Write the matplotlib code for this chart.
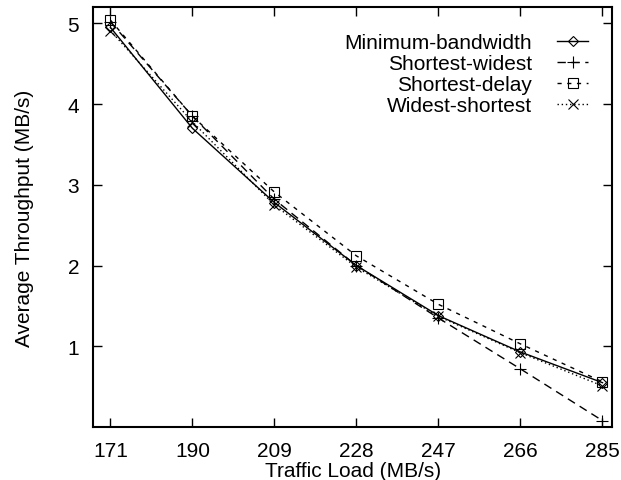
import matplotlib
matplotlib.use("Agg")
import matplotlib.pyplot as plt

plt.rcParams['font.family'] = ['Liberation Sans', 'DejaVu Sans']

loads = [171, 190, 209, 228, 247, 266, 285]
min_bw = [4.95, 3.70, 2.78, 2.00, 1.38, 0.93, 0.55]
sw = [5.02, 3.85, 2.82, 2.00, 1.35, 0.72, 0.08]
sd = [5.04, 3.85, 2.91, 2.12, 1.52, 1.03, 0.56]
ws = [4.91, 3.78, 2.75, 1.98, 1.37, 0.92, 0.51]
ytick_vals = [1, 2, 3, 4, 5]

fig = plt.figure(figsize=(6.21, 4.81), dpi=100)
ax = fig.add_axes([0.150, 0.110, 0.8355, 0.873])

ax.plot(loads, min_bw, color='black', lw=1, ls='-', marker='D', ms=5.5, mfc='none', mew=0.8, label='Minimum-bandwidth')
ax.plot(loads, sw, color='black', lw=1, ls=(0, (6, 4)), marker='+', ms=8, mew=0.8, label='Shortest-widest')
ax.plot(loads, sd, color='black', lw=1, ls=(0, (3, 4)), marker='s', ms=7.5, mfc='none', mew=0.8, label='Shortest-delay')
ax.plot(loads, ws, color='black', lw=1, ls=(0, (1, 2)), marker='x', ms=6.5, mew=0.8, label='Widest-shortest')

ax.set_xlim(167, 287.2)
ax.set_ylim(0, 5.2)
ax.set_xticks(loads)
ax.set_yticks(ytick_vals)
ax.tick_params(direction='in', top=True, right=True, length=6.5, width=1, labelsize=15)
ax.tick_params(axis='x', pad=10)
ax.tick_params(axis='y', pad=10)
for s in ax.spines.values():
    s.set_linewidth(1.5)

ax.set_xlabel('Traffic Load (MB/s)', fontsize=15)
ax.set_ylabel('Average Throughput (MB/s)', fontsize=15)
ax.xaxis.set_label_coords(0.5, -0.080)
ax.yaxis.set_label_coords(-0.114, 0.5)

leg = ax.legend(loc='upper right', frameon=False, markerfirst=False, fontsize=15,
                handlelength=1.5, handletextpad=1.2, labelspacing=0.1, borderpad=0,
                borderaxespad=0, bbox_to_anchor=(0.954, 0.938))
for t in leg.get_texts():
    t.set_ha('right')

fig.savefig('out.png', dpi=100)
